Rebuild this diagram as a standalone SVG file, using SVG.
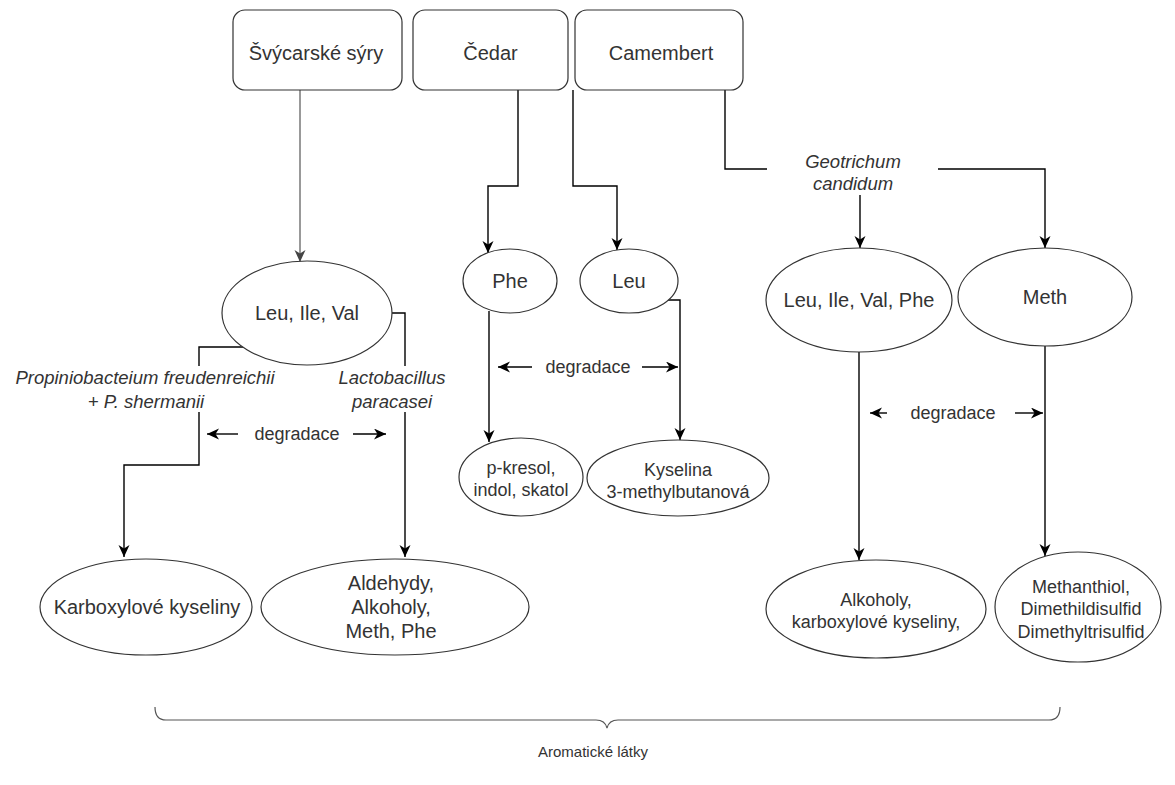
<svg xmlns="http://www.w3.org/2000/svg" width="1175" height="785" viewBox="0 0 1175 785">
<style>
.box{fill:#fff;stroke:#333;stroke-width:1.2}
.ell{fill:#fff;stroke:#333;stroke-width:1.2}
.t{font-family:"Liberation Sans",Arial,sans-serif;fill:#333;text-anchor:middle}
.t20{font-size:20px}
.t18{font-size:18px}
.it{font-style:italic;font-size:18.5px}
.c{fill:none;stroke:#000;stroke-width:1.4}
.cg{fill:none;stroke:#555;stroke-width:1.2}
.bg{fill:#fff;stroke:none}
</style>
<defs>
<marker id="a" markerUnits="userSpaceOnUse" markerWidth="14" markerHeight="12" refX="12" refY="5.5" orient="auto">
<path d="M0,0 L12,5.5 L0,11 L3.5,5.5 z" fill="#000"/>
</marker>
<marker id="ag" markerUnits="userSpaceOnUse" markerWidth="14" markerHeight="12" refX="12" refY="5.5" orient="auto">
<path d="M0,0 L12,5.5 L0,11 L3.5,5.5 z" fill="#444"/>
</marker>
</defs>
<rect width="1175" height="785" fill="#fff"/>

<g id="connectors">
<path class="cg" d="M300,90 V262" marker-end="url(#ag)"/>
<path class="c" d="M247,347 H199 V465 H124 V557" marker-end="url(#a)"/>
<path class="c" d="M392,313 H405 V557" marker-end="url(#a)"/>
<path class="c" d="M518,90 V186 H488 V253" marker-end="url(#a)"/>
<path class="c" d="M573,90 V186 H617 V250" marker-end="url(#a)"/>
<path class="c" d="M489,311 V442" marker-end="url(#a)"/>
<path class="c" d="M668,300 H680 V440" marker-end="url(#a)"/>
<path class="c" d="M725,90 V169 H1045 V248" marker-end="url(#a)"/>
<path class="c" d="M860,195 V248" marker-end="url(#a)"/>
<path class="c" d="M859,352 V560" marker-end="url(#a)"/>
<path class="c" d="M1045,346 V556" marker-end="url(#a)"/>
<path class="c" d="M238,434 H207" marker-end="url(#a)"/>
<path class="c" d="M353,434 H386" marker-end="url(#a)"/>
<path class="c" d="M532,367 H498" marker-end="url(#a)"/>
<path class="c" d="M642,367 H678" marker-end="url(#a)"/>
<path class="c" d="M887,413 H870" marker-end="url(#a)"/>
<path class="c" d="M1015,413 H1043" marker-end="url(#a)"/>
</g>

<g id="label-propionibacterium">
<rect class="bg" x="8" y="366" width="276" height="46"/>
<text class="t it" x="145" y="384">Propiniobacteium freudenreichii</text>
<text class="t it" x="146" y="408">+ P. shermanii</text>
</g>
<g id="label-lactobacillus">
<rect class="bg" x="338" y="366" width="110" height="46"/>
<text class="t it" x="392" y="384">Lactobacillus</text>
<text class="t it" x="392" y="408">paracasei</text>
</g>
<g id="label-geotrichum">
<rect class="bg" x="767" y="148" width="171" height="47"/>
<text class="t it" x="853" y="168">Geotrichum</text>
<text class="t it" x="853" y="190">candidum</text>
</g>
<g id="label-degradace-1"><text class="t t18" x="297" y="440">degradace</text></g>
<g id="label-degradace-2"><text class="t t18" x="588" y="373">degradace</text></g>
<g id="label-degradace-3"><text class="t t18" x="953" y="419">degradace</text></g>

<g id="svycarske"><rect class="box" x="233" y="10" width="169" height="80" rx="12"/><text class="t t20" x="316" y="60">Švýcarské sýry</text></g>
<g id="cedar"><rect class="box" x="413" y="10" width="155" height="80" rx="12"/><text class="t t20" x="490.5" y="60">Čedar</text></g>
<g id="camembert"><rect class="box" x="575" y="10" width="168" height="80" rx="12"/><text class="t t20" x="661" y="60">Camembert</text></g>

<g id="leu-ile-val"><ellipse class="ell" cx="307" cy="313" rx="85" ry="52"/><text class="t t20" x="307" y="320">Leu, Ile, Val</text></g>
<g id="phe"><ellipse class="ell" cx="510" cy="281" rx="47" ry="32"/><text class="t t20" x="510" y="288">Phe</text></g>
<g id="leu"><ellipse class="ell" cx="629" cy="281" rx="49" ry="32"/><text class="t t20" x="629" y="288">Leu</text></g>
<g id="leu-ile-val-phe"><ellipse class="ell" cx="859" cy="300" rx="93" ry="52"/><text class="t t20" x="859" y="307">Leu, Ile, Val, Phe</text></g>
<g id="meth"><ellipse class="ell" cx="1045" cy="297" rx="87" ry="49"/><text class="t t20" x="1045" y="304">Meth</text></g>

<g id="pkresol"><ellipse class="ell" cx="521" cy="477" rx="62" ry="39"/><text class="t t18" x="521" y="474">p-kresol,</text><text class="t t18" x="521" y="496">indol, skatol</text></g>
<g id="kyselina"><ellipse class="ell" cx="678" cy="478" rx="91" ry="38"/><text class="t t18" x="678" y="476">Kyselina</text><text class="t t18" x="678" y="498">3-methylbutanová</text></g>

<g id="karboxylove"><ellipse class="ell" cx="146" cy="607" rx="106" ry="48"/><text class="t t20" x="147" y="614">Karboxylové kyseliny</text></g>
<g id="aldehydy"><ellipse class="ell" cx="395" cy="607" rx="134" ry="48"/><text class="t t20" x="391" y="590">Aldehydy,</text><text class="t t20" x="391" y="614">Alkoholy,</text><text class="t t20" x="391" y="638">Meth, Phe</text></g>
<g id="alkoholy"><ellipse class="ell" cx="876" cy="609" rx="110" ry="49"/><text class="t t18" x="876" y="606">Alkoholy,</text><text class="t t18" x="876" y="628">karboxylové kyseliny,</text></g>
<g id="methanthiol"><ellipse class="ell" cx="1078" cy="607" rx="83" ry="55"/><text class="t t18" x="1081" y="593">Methanthiol,</text><text class="t t18" x="1081" y="615">Dimethildisulfid</text><text class="t t18" x="1081" y="638">Dimethyltrisulfid</text></g>

<g id="brace">
<path d="M155,707 Q155,720 166,720 H596 Q605,720 607,728 Q609,720 618,720 H1049 Q1060,720 1060,707" fill="none" stroke="#555" stroke-width="1.2"/>
<text class="t" style="font-size:15px" x="593" y="757">Aromatické látky</text>
</g>
</svg>
